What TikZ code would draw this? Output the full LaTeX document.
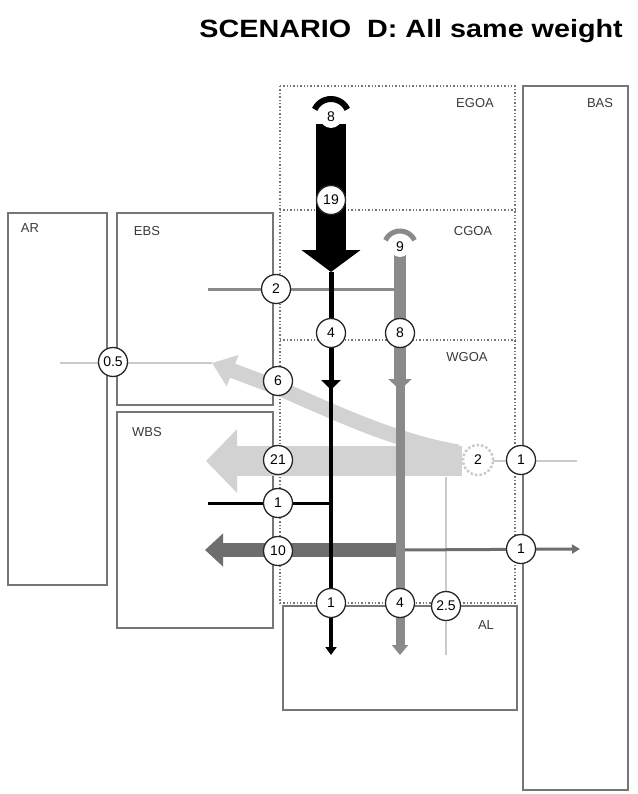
\documentclass[tikz,border=0pt]{standalone}
\usepackage{fontspec}
\setmainfont{Liberation Sans}
\usetikzlibrary{arrows.meta}
\definecolor{gA}{HTML}{8A8A8A}
\definecolor{gB}{HTML}{6E6E6E}
\definecolor{gC}{HTML}{D2D2D2}
\definecolor{gCt}{HTML}{CACACA}
\definecolor{boxc}{HTML}{767676}
\definecolor{txtc}{HTML}{3A3A3A}
\begin{document}
\begin{tikzpicture}[x=1pt,y=-1pt,
  boxn/.style={draw=boxc,line width=1.6pt,anchor=north west,inner sep=0pt,outer sep=0pt},
  lbl/.style={font=\fontsize{13}{13}\selectfont,text=txtc,inner sep=0pt},
  num/.style={circle,draw=black!85,line width=1.3pt,fill=white,minimum size=29pt,inner sep=0pt,font=\fontsize{14}{14}\selectfont},
  srcn/.style={circle,fill=white,minimum size=22pt,inner sep=0pt,font=\fontsize{14}{14}\selectfont},
  dotreg/.style={draw=boxc,line width=1.4pt,dotted},
]
\useasboundingbox (0,0) rectangle (637,794);

% title
\node[anchor=east,inner sep=0pt] (title) at (623,31) {\scalebox{1.15}[1]{\fontsize{25}{25}\selectfont\bfseries SCENARIO\ \ D: All same weight}};

% boxes
\node[boxn,minimum width=99pt,minimum height=372pt] (AR) at (8,213) {};
\node[boxn,minimum width=156pt,minimum height=192pt] (EBS) at (117,213) {};
\node[boxn,minimum width=156pt,minimum height=216pt] (WBS) at (117,412) {};
\node[boxn,minimum width=234pt,minimum height=104pt] (AL) at (283,606) {};
\node[boxn,minimum width=105pt,minimum height=704pt] (BAS) at (523,86) {};
\draw[dotreg] (280,86) rectangle (515,603);
\draw[dotreg] (280,210) -- (515,210);
\draw[dotreg] (280,340) -- (515,340);

% labels
\node[lbl] (tAR) at (30,228) {AR};
\node[lbl] (tEBS) at (147,231) {EBS};
\node[lbl] (tWBS) at (147,432) {WBS};
\node[lbl] (tEGOA) at (475,103) {EGOA};
\node[lbl] (tCGOA) at (473,231) {CGOA};
\node[lbl] (tWGOA) at (467,357) {WGOA};
\node[lbl] (tBAS) at (600,103) {BAS};
\node[lbl] (tAL) at (486,625) {AL};

% coordinates
\coordinate (bTop) at (331,124);
\coordinate (bHead) at (331,272);
\coordinate (bMid) at (331,390);
\coordinate (bMid2) at (331,382);
\coordinate (bEnd) at (331,655);
\coordinate (bL) at (208,503);
\coordinate (bJ) at (331,503);
\coordinate (gTop) at (400,254);
\coordinate (gMid) at (400,390);
\coordinate (gMid2) at (400,382);
\coordinate (gEnd) at (400,655);
\coordinate (gL) at (208,289);
\coordinate (gJ) at (400,289);
\coordinate (dJ) at (400,550);
\coordinate (dL) at (205,550);
\coordinate (dR) at (580,549);
\coordinate (lStart) at (462,461);
\coordinate (lL) at (206,461);
\coordinate (cStart) at (458,452);
\coordinate (cMid) at (276,387);
\coordinate (cTip) at (212,363);
\coordinate (tL) at (60,363);
\coordinate (rR) at (577,461);
\coordinate (vTop) at (446,477);
\coordinate (vEnd) at (446,655);

% light grey flows
\draw[gCt,line width=2.5pt] (vTop) -- (vEnd);
\draw[gC,line width=30pt,-{Triangle[length=31pt,width=62pt]}] (lStart) -- (lL);
\draw[gC,line width=15pt,-{Triangle[length=22pt,width=32pt]}] (cStart) .. controls (390,440) and (330,410) .. (cMid) -- (cTip);
\draw[gCt,line width=2.5pt] (cTip) -- (tL);
\draw[gCt,line width=2.5pt] (478,461) -- (rR);

% dark grey flow
\draw[gB,line width=14pt,-{Triangle[length=18pt,width=32pt]}] (dJ) -- (dL);
\draw[gB,line width=3pt,-{Triangle[length=8pt,width=9pt]}] (dJ) -- (dR);

% grey flow
\draw[gA,line width=9pt,-{Triangle[length=10pt,width=16pt]}] (gMid2) -- (gEnd);
\draw[gA,line width=12pt,-{Triangle[length=11pt,width=23pt]}] (gTop) -- (gMid);
\draw[gA,line width=3pt] (gJ) -- (gL);
\draw[gA,line width=5pt] (400,247) ++(205:16) arc[start angle=205,end angle=335,radius=16];

% black flow
\draw[black,line width=30pt,-{Triangle[length=22pt,width=58pt]}] (bTop) -- (bHead);
\draw[black,line width=4pt,-{Triangle[length=8pt,width=11pt]}] (bMid2) -- (bEnd);
\draw[black,line width=5pt,-{Triangle[length=10pt,width=19pt]}] (bHead) -- (bMid);
\draw[black,line width=3pt] (bJ) -- (bL);
\draw[black,line width=6pt] (331,117) ++(205:18) arc[start angle=205,end angle=335,radius=18];

% source circles
\node[srcn] (s8) at (331,117) {8};
\node[srcn,minimum size=20pt] (s9) at (400,247) {9};
\node[circle,draw=gCt,dotted,line width=2.5pt,fill=white,minimum size=30pt,inner sep=0pt,font=\fontsize{14}{14}\selectfont] (s2) at (478,460) {2};

% value circles
\node[num] (n19) at (331,200) {19};
\node[num] (n2a) at (276,289) {2};
\node[num] (n4a) at (331,333) {4};
\node[num] (n8) at (400,333) {8};
\node[num] (n05) at (113,362) {0.5};
\node[num] (n6) at (278,381) {6};
\node[num] (n21) at (278,460) {21};
\node[num] (n1r) at (521,460) {1};
\node[num] (n1b) at (278,503) {1};
\node[num] (n10) at (278,551) {10};
\node[num] (n1d) at (521,549) {1};
\node[num] (n1c) at (331,603) {1};
\node[num] (n4b) at (400,603) {4};
\node[num] (n25) at (446,606) {2.5};
\end{tikzpicture}
\end{document}
